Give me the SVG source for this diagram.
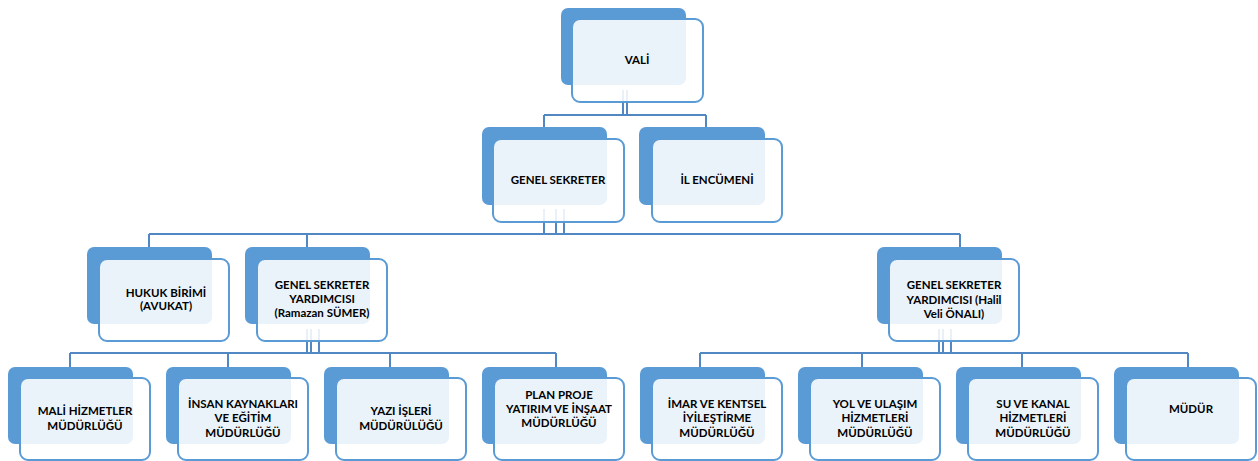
<svg xmlns="http://www.w3.org/2000/svg" width="1258" height="461" viewBox="0 0 1258 461">
<style>
.bk{fill:#5B9BD5;}
.fr{fill:#FFFFFF;fill-opacity:0.88;stroke:#5B9BD5;stroke-width:2;}
.t{font-family:Lato,"Liberation Sans",Arial,sans-serif;font-weight:bold;font-size:11.5px;fill:#000;text-anchor:middle;}
.c{fill:none;stroke:#5187C3;stroke-width:2;}
</style>
<rect width="1258" height="461" fill="#FFFFFF"/>
<g id="connectors">
<path class="c" d="M623 90V115M627 90V115M544 115H706M544 115V127M706 115V127"/>
<path class="c" d="M544 209V234M556 209V234M564 209V234M149 234H960M149 234V247M307 234V247M960 234V247"/>
<path class="c" d="M307 329V353M311 329V353M319 329V353M70 353H556M70 353V367M228 353V367M390 353V367M556 353V367"/>
<path class="c" d="M939 329V353M943 329V353M951 329V353M700 353H1188M700 353V367M862 353V367M1022 353V367M1188 353V367"/>
</g>
<g id="vali">
<rect class="bk" x="561" y="8" width="125" height="77" rx="7"/>
<rect class="fr" x="572" y="19" width="131" height="83" rx="8"/>
<text class="t" x="637" y="64">VALİ</text>
</g>
<g id="genel-sekreter">
<rect class="bk" x="482" y="127" width="125" height="78" rx="7"/>
<rect class="fr" x="493" y="139" width="131" height="83" rx="8"/>
<text class="t" x="558" y="184">GENEL SEKRETER</text>
</g>
<g id="il-encumeni">
<rect class="bk" x="639" y="127" width="126" height="78" rx="7"/>
<rect class="fr" x="652" y="139" width="130" height="83" rx="8"/>
<text class="t" x="717" y="184">İL ENCÜMENİ</text>
</g>
<g id="hukuk">
<rect class="bk" x="87" y="247" width="125" height="77" rx="7"/>
<rect class="fr" x="99" y="259" width="130" height="82" rx="8"/>
<text class="t" x="166" y="297">HUKUK BİRİMİ</text>
<text class="t" x="166" y="310">(AVUKAT)</text>
</g>
<g id="gsy-ramazan">
<rect class="bk" x="245" y="247" width="125" height="77" rx="7"/>
<rect class="fr" x="257" y="259" width="130" height="82" rx="8"/>
<text class="t" x="322" y="289">GENEL SEKRETER</text>
<text class="t" x="322" y="303">YARDIMCISI</text>
<text class="t" x="322" y="317">(Ramazan SÜMER)</text>
</g>
<g id="gsy-halil">
<rect class="bk" x="877" y="247" width="125" height="77" rx="7"/>
<rect class="fr" x="889" y="259" width="130" height="82" rx="8"/>
<text class="t" x="954" y="289">GENEL SEKRETER</text>
<text class="t" x="954" y="304">YARDIMCISI (Halil</text>
<text class="t" x="954" y="318">Veli ÖNALI)</text>
</g>
<g id="mali">
<rect class="bk" x="8" y="367" width="125" height="77" rx="7"/>
<rect class="fr" x="20" y="378" width="130" height="82" rx="8"/>
<text class="t" x="85" y="415">MALİ HİZMETLER</text>
<text class="t" x="85" y="430">MÜDÜRLÜĞÜ</text>
</g>
<g id="insan">
<rect class="bk" x="166" y="367" width="125" height="77" rx="7"/>
<rect class="fr" x="178" y="378" width="130" height="82" rx="8"/>
<text class="t" x="243" y="408">İNSAN KAYNAKLARI</text>
<text class="t" x="243" y="422">VE EĞİTİM</text>
<text class="t" x="243" y="437">MÜDÜRLÜĞÜ</text>
</g>
<g id="yazi">
<rect class="bk" x="324" y="367" width="125" height="77" rx="7"/>
<rect class="fr" x="336" y="378" width="130" height="82" rx="8"/>
<text class="t" x="401" y="415">YAZI İŞLERİ</text>
<text class="t" x="401" y="430">MÜDÜRÜLÜĞÜ</text>
</g>
<g id="plan">
<rect class="bk" x="482" y="367" width="125" height="77" rx="7"/>
<rect class="fr" x="494" y="378" width="130" height="82" rx="8"/>
<text class="t" x="559" y="399">PLAN PROJE</text>
<text class="t" x="559" y="413">YATIRIM VE İNŞAAT</text>
<text class="t" x="559" y="427">MÜDÜRLÜĞÜ</text>
</g>
<g id="imar">
<rect class="bk" x="640" y="367" width="125" height="77" rx="7"/>
<rect class="fr" x="652" y="378" width="130" height="82" rx="8"/>
<text class="t" x="717" y="408">İMAR VE KENTSEL</text>
<text class="t" x="717" y="422">İYİLEŞTİRME</text>
<text class="t" x="717" y="437">MÜDÜRLÜĞÜ</text>
</g>
<g id="yol">
<rect class="bk" x="798" y="367" width="125" height="77" rx="7"/>
<rect class="fr" x="810" y="378" width="130" height="82" rx="8"/>
<text class="t" x="875" y="408">YOL VE ULAŞIM</text>
<text class="t" x="875" y="422">HİZMETLERİ</text>
<text class="t" x="875" y="437">MÜDÜRLÜĞÜ</text>
</g>
<g id="su">
<rect class="bk" x="956" y="367" width="125" height="77" rx="7"/>
<rect class="fr" x="968" y="378" width="130" height="82" rx="8"/>
<text class="t" x="1033" y="408">SU VE KANAL</text>
<text class="t" x="1033" y="422">HİZMETLERİ</text>
<text class="t" x="1033" y="437">MÜDÜRLÜĞÜ</text>
</g>
<g id="mudur">
<rect class="bk" x="1114" y="367" width="125" height="77" rx="7"/>
<rect class="fr" x="1126" y="378" width="130" height="82" rx="8"/>
<text class="t" x="1191" y="413">MÜDÜR</text>
</g>
</svg>
